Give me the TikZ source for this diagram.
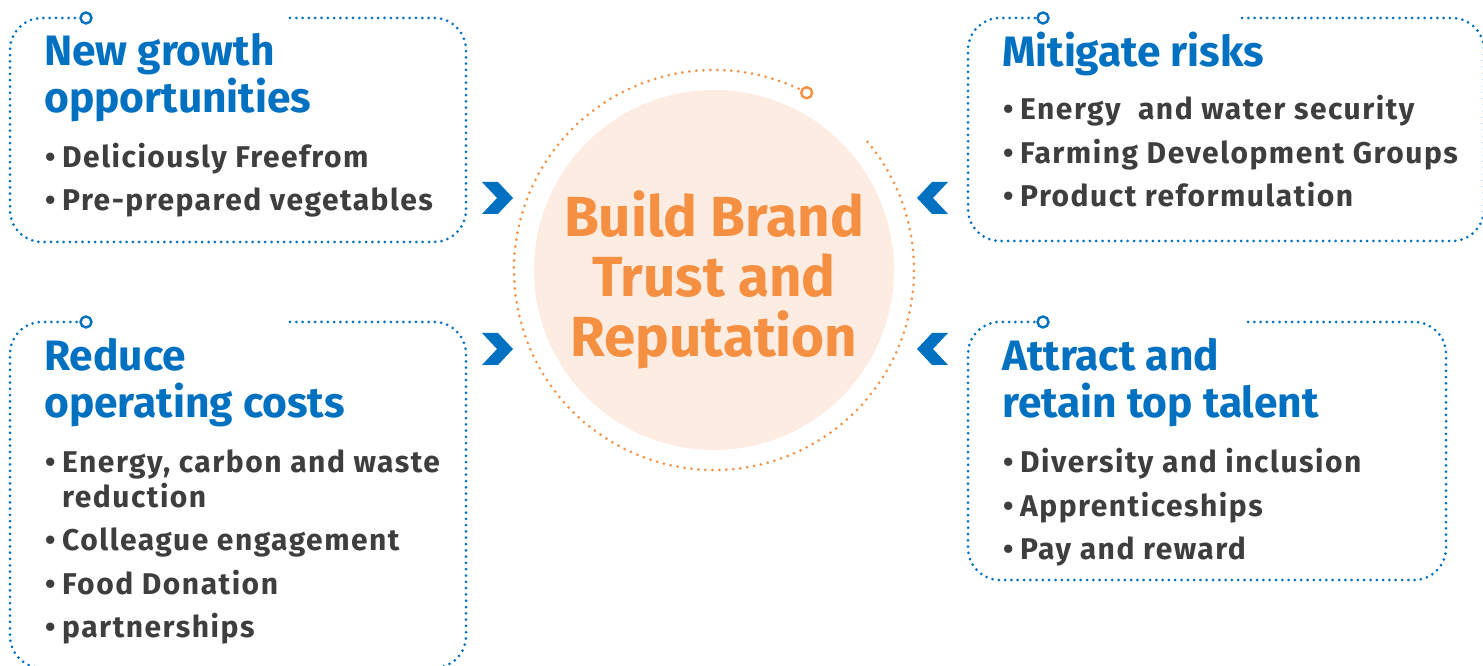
\documentclass[tikz,border=0pt]{standalone}
\usepackage{fontspec}
\setmainfont{Fira Sans}
\newfontfamily\itemfont{Fira Sans}[LetterSpace=5]
\definecolor{valueblue}{RGB}{0,112,192}
\definecolor{valueorange}{RGB}{245,143,66}
\definecolor{valuepeach}{RGB}{253,236,226}
\definecolor{valuegrey}{RGB}{62,62,62}
\newcommand{\bulletmark}{\makebox[17pt][l]{\textbullet}}
\begin{document}
\begin{tikzpicture}[x=1pt,y=1pt,
  dotpath/.style={line width=3pt,line cap=round,dash pattern=on 0pt off 6.3pt},
  bluebox/.style={dotpath,draw=valueblue,rounded corners=32pt},
  bluemark/.style={draw=valueblue,line width=2.4pt},
  headline/.style={anchor=base west,inner sep=0pt,align=left,text=valueblue,font=\fontsize{42.5}{47}\selectfont\bfseries},
  itemlist/.style={anchor=base west,inner sep=0pt,align=left,text=valuegrey,font=\itemfont\fontsize{30}{43.5}\selectfont\bfseries}]
\useasboundingbox (0,0) rectangle (1483,666);

% centre disc with its dotted ring
\pgfmathsetmacro{\r}{200}
\pgfmathsetmacro{\a}{62.4}
\coordinate (hub) at (714,396);
\fill[valuepeach] (hub) circle (180pt);
\draw[dotpath,draw=valueorange,dash pattern=on 0pt off 7pt] (hub) ++(65:\r) arc[start angle=65,end angle=401.8,radius=\r];
\draw[draw=valueorange,line width=2.4pt] (hub) ++(\a:\r) circle (5.5pt);
\node[align=center,inner sep=0pt,text=valueorange,font=\fontsize{56.5}{60}\selectfont\bfseries] (brand) at (714,386) {Build Brand\\Trust and\\Reputation};

% new growth (base anchor sits on the last line)
\draw[bluebox] (290,648) -- (466,648) -- (466,424) -- (10,424) -- (10,648) -- (79,648);
\draw[bluemark] (86,648) circle (5.5pt);
\node[headline] (growth) at (44,553) {New growth\\opportunities};
\node[itemlist] (growth-items) at (45,455) {\bulletmark Deliciously Freefrom\\\bulletmark Pre-prepared vegetables};

% reduce costs
\draw[bluebox] (290,344) -- (466,344) -- (466,-2) -- (10,-2) -- (10,344) -- (79,344);
\draw[bluemark] (86,344) circle (5.5pt);
\node[headline] (costs) at (44,248) {Reduce\\operating costs};
\node[itemlist] (costs-items) at (45,28) {\bulletmark Energy, carbon and waste\\[-8.5pt]
  \hphantom{\bulletmark}reduction\\\bulletmark Colleague engagement\\\bulletmark Food Donation\\\bulletmark partnerships};

% mitigate risks
\draw[bluebox] (1242,648) -- (1484,648) -- (1484,425) -- (968,425) -- (968,648) -- (1036,648);
\draw[bluemark] (1043,648) circle (5.5pt);
\node[headline] (risks) at (1002,599) {Mitigate risks};
\node[itemlist] (risks-items) at (1003,459) {\bulletmark Energy~ and water security\\\bulletmark Farming Development Groups\\\bulletmark Product reformulation};

% talent
\draw[bluebox] (1248,344) -- (1446,344) -- (1446,86) -- (968,86) -- (968,344) -- (1036,344);
\draw[bluemark] (1043,344) circle (5.5pt);
\node[headline] (talent) at (1002,248) {Attract and\\retain top talent};
\node[itemlist] (talent-items) at (1003,106) {\bulletmark Diversity and inclusion\\\bulletmark Apprenticeships\\\bulletmark Pay and reward};

% chevrons pointing at the disc
\foreach \cy in {468,317}{
  \fill[valueblue] (482,\cy+16) -- ++(16,0) -- ++(15,-16) -- ++(-15,-16) -- ++(-16,0) -- ++(15,16) -- cycle;
  \fill[valueblue] (948,\cy+16) -- ++(-16,0) -- ++(-15,-16) -- ++(15,-16) -- ++(16,0) -- ++(-15,16) -- cycle;
}
\end{tikzpicture}
\end{document}
